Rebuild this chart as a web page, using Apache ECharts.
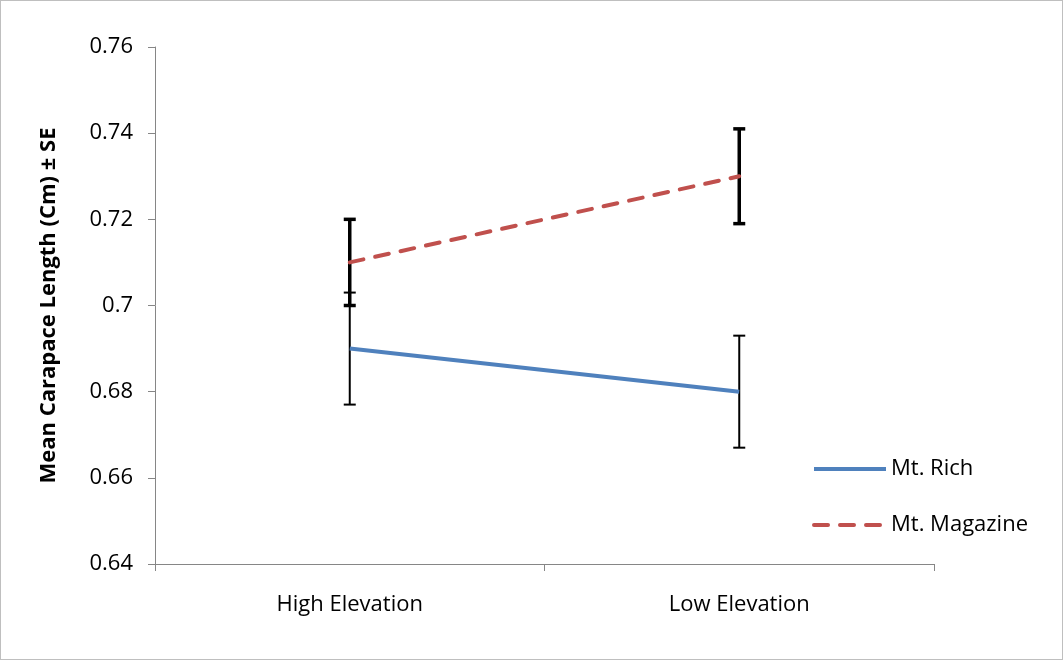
<!DOCTYPE html>
<html>
<head>
<meta charset="utf-8">
<script src="https://cdn.jsdelivr.net/npm/echarts@6/dist/echarts.min.js"></script>
<style>
  html, body { margin: 0; padding: 0; background: #fff; }
  #chart { width: 1063px; height: 660px; box-sizing: border-box; border: 1px solid #bfbfbf; }
</style>
</head>
<body>
<div id="chart"></div>
<script>
// Elevation categories
const categories = ['High Elevation', 'Low Elevation'];

// Mean carapace length (cm) per site
const richMeans = [0.69, 0.68];
const richSE = [0.013, 0.013];
const magazineMeans = [0.71, 0.73];
const magazineSE = [0.010, 0.011];

// Y axis ticks
const yMin = 0.64, yMax = 0.76, yStep = 0.02;

const FONT = '"Open Sans", "Noto Sans", sans-serif';

function errorData(means, se) {
  return means.map((m, i) => [i, m - se[i], m + se[i]]);
}

function errorSeries(name, means, se, width) {
  return {
    type: 'custom',
    name: name + ' SE',
    z: 1,
    silent: true,
    data: errorData(means, se),
    encode: { x: 0, y: [1, 2] },
    renderItem: function (params, api) {
      const x = api.value(0);
      const lo = api.coord([x, api.value(1)]);
      const hi = api.coord([x, api.value(2)]);
      const half = 6;
      const style = { stroke: '#000', lineWidth: width };
      return {
        type: 'group',
        children: [
          { type: 'line', shape: { x1: lo[0], y1: lo[1], x2: hi[0], y2: hi[1] }, style: style },
          { type: 'line', shape: { x1: hi[0] - half, y1: hi[1], x2: hi[0] + half, y2: hi[1] }, style: style },
          { type: 'line', shape: { x1: lo[0] - half, y1: lo[1], x2: lo[0] + half, y2: lo[1] }, style: style }
        ]
      };
    }
  };
}

const chart = echarts.init(document.getElementById('chart'));
chart.setOption({
  animation: false,
  textStyle: { fontFamily: FONT },
  grid: { left: 154, right: 128, top: 46, bottom: 95, containLabel: false },
  legend: {
    orient: 'vertical',
    left: 806,
    top: 452,
    itemWidth: 72,
    itemHeight: 20,
    itemGap: 34,
    itemStyle: { opacity: 0 },
    lineStyle: { width: 4 },
    textStyle: { fontSize: 22, color: '#000', fontFamily: FONT, padding: [0, 0, 0, 0] },
    data: ['Mt. Rich', 'Mt. Magazine']
  },
  xAxis: {
    type: 'category',
    data: categories,
    boundaryGap: true,
    axisLine: { lineStyle: { color: '#868686', width: 1 } },
    axisTick: { show: true, length: 7, lineStyle: { color: '#868686' } },
    axisLabel: { fontSize: 22, color: '#000', margin: 30, fontFamily: FONT }
  },
  yAxis: {
    type: 'value',
    min: yMin,
    max: yMax,
    interval: yStep,
    name: 'Mean Carapace Length (Cm) \u00B1 SE',
    nameLocation: 'middle',
    nameGap: 95,
    nameRotate: 90,
    nameTextStyle: { fontSize: 22, fontWeight: 'bold', color: '#000', fontFamily: FONT },
    axisLine: { show: true, lineStyle: { color: '#868686', width: 1 } },
    axisTick: { show: true, length: 7, lineStyle: { color: '#868686' } },
    splitLine: { show: false },
    axisLabel: { fontSize: 22, color: '#000', margin: 22, fontFamily: FONT }
  },
  series: [
    errorSeries('Mt. Rich', richMeans, richSE, 2),
    errorSeries('Mt. Magazine', magazineMeans, magazineSE, 3.5),
    {
      name: 'Mt. Rich',
      type: 'line',
      z: 3,
      data: richMeans,
      symbol: 'none',
      color: '#4F81BD',
      lineStyle: { color: '#4F81BD', width: 4 }
    },
    {
      name: 'Mt. Magazine',
      type: 'line',
      z: 3,
      data: magazineMeans,
      symbol: 'none',
      color: '#C0504D',
      lineStyle: { color: '#C0504D', width: 4, type: [14, 12], cap: 'round' }
    }
  ]
});
</script>
</body>
</html>
